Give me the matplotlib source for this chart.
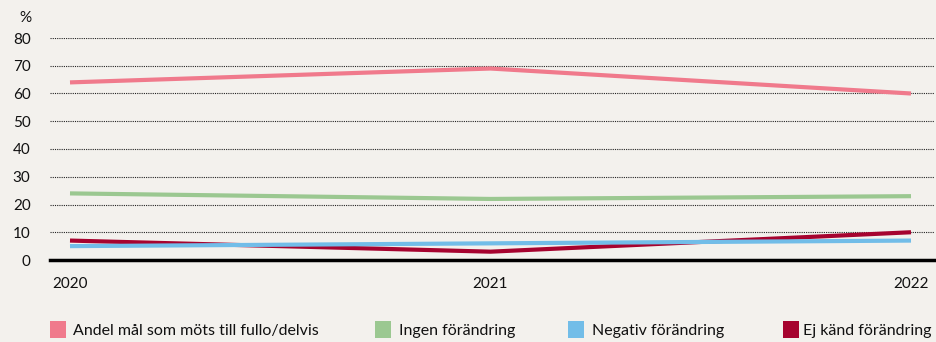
import matplotlib
matplotlib.use('Agg')
import matplotlib.pyplot as plt
from matplotlib.patches import Rectangle

# andel av mål per utfall, procent
years = [2020, 2021, 2022]
share_met = [64, 69, 60]
no_change = [24, 22, 23]
negative = [5, 6, 7]
unknown = [7, 3, 10]

labels = ['Andel mål som möts till fullo/delvis', 'Ingen förändring',
          'Negativ förändring', 'Ej känd förändring']
colors = ['#f07a8c', '#9bc891', '#72bde8', '#a6032f']
yticks = [0, 10, 20, 30, 40, 50, 60, 70, 80]

bg = '#f3f1ed'
plt.rcParams['font.family'] = ['Lato', 'DejaVu Sans']

fig = plt.figure(figsize=(9.37, 3.42), dpi=100, facecolor=bg)
ax = fig.add_axes([50/937, 82/342, 884/937, 222/342], facecolor=bg)

for y in yticks[1:]:
    ax.axhline(y, color='#222222', lw=0.8, ls=(0, (1, 1)), zorder=1)

series = [share_met, no_change, negative, unknown]
order = [0, 1, 3, 2]
for i in order:
    ax.plot(years, series[i], color=colors[i], lw=3.0, solid_capstyle='butt', zorder=3)

ax.set_ylim(0, 80)
ax.set_xlim(2020 - 20/420.5, 2022 + 23/420.5)
for s in ['top', 'right', 'left']:
    ax.spines[s].set_visible(False)
ax.spines['bottom'].set_linewidth(2.5)
ax.spines['bottom'].set_color('black')
ax.spines['bottom'].set_zorder(4)

ax.set_yticks(yticks)
ax.set_yticklabels([str(v) for v in yticks])
ax.tick_params(axis='y', length=0, labelsize=11, pad=14, colors='#111111')
ax.set_xticks(years)
ax.set_xticklabels([str(v) for v in years])
ax.tick_params(axis='x', length=0, labelsize=11, pad=12, colors='#111111')

fig.text(25/937, 1 - 18/342, '%', ha='center', va='center', fontsize=11, color='#111111')

# legend along the bottom edge
patch_x = [50, 375, 568, 783]
text_x = [73, 399, 592, 803]
for px, tx, lab, c in zip(patch_x, text_x, labels, colors):
    fig.patches.append(Rectangle((px/937, 1 - 338/342), 16/937, 17/342,
                                 transform=fig.transFigure, color=c, lw=0))
    fig.text(tx/937, 1 - 331/342, lab, ha='left', va='center', fontsize=11.5, color='#111111')

fig.savefig('out.png', dpi=100, facecolor=bg)
